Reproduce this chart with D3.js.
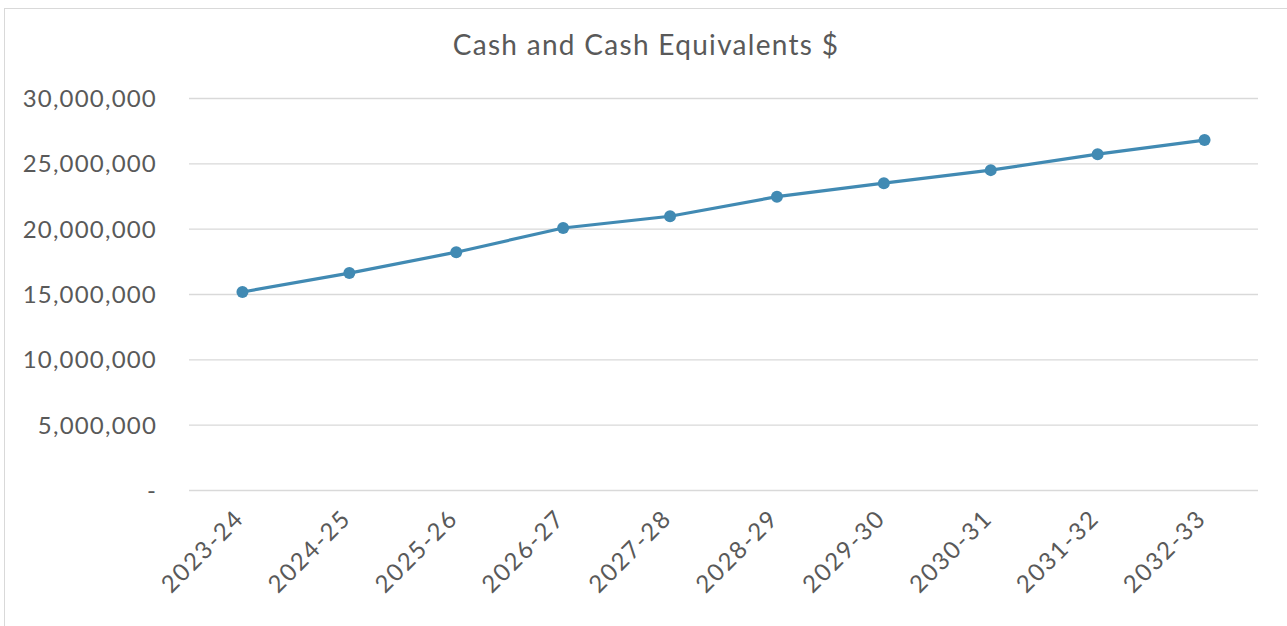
<!DOCTYPE html>
<html>
<head>
<meta charset="utf-8">
<script src="https://cdn.jsdelivr.net/npm/d3@7"></script>
<style>
  body { margin: 0; background: #fff; }
  text { font-family: Lato, "Open Sans", sans-serif; fill: #595959; }
</style>
</head>
<body>
<svg id="chart" width="1287" height="626"></svg>
<script>
var years = ['2023-24', '2024-25', '2025-26', '2026-27', '2027-28',
             '2028-29', '2029-30', '2030-31', '2031-32', '2032-33'];
var cash = [15150000, 16600000, 18200000, 20050000, 20950000,
            22450000, 23480000, 24480000, 25700000, 26780000];
var yTicks = [0, 5000000, 10000000, 15000000, 20000000, 25000000, 30000000];

var svg = d3.select('#chart');
var margin = {left: 189, right: 29, top: 98, bottom: 136};
var width = 1287 - margin.left - margin.right,
    height = 626 - margin.top - margin.bottom;

// outer border of the chart area
svg.append('rect').attr('x', 4.5).attr('y', 8.5).attr('width', 1300).attr('height', 700)
    .attr('fill', 'none').attr('stroke', '#d9d9d9');

svg.append('text').attr('x', 646).attr('y', 55).attr('text-anchor', 'middle')
    .style('font-size', '28px').style('letter-spacing', '1.3px')
    .text('Cash and Cash Equivalents $');

var g = svg.append('g').attr('transform', 'translate(' + margin.left + ',' + margin.top + ')');

var x = d3.scaleBand().domain(years).range([0, width]);
var y = d3.scaleLinear().domain([0, 30000000]).range([height, 0]);

var yAxis = d3.axisLeft(y).tickValues(yTicks).tickSize(-width).tickPadding(32)
    .tickFormat(function(d) { return d === 0 ? '-' : d3.format(',')(d); });
var ya = g.append('g').call(yAxis);
ya.select('.domain').remove();
ya.selectAll('line').attr('stroke', '#d9d9d9').attr('stroke-width', 1.3);
ya.selectAll('text').style('font-size', '24px').style('letter-spacing', '1.2px').attr('dy', '0.35em');

var xa = g.append('g').attr('transform', 'translate(0,' + height + ')')
    .call(d3.axisBottom(x).tickSize(0));
xa.select('.domain').remove();
xa.selectAll('text').style('font-size', '24px').style('letter-spacing', '1.8px')
    .attr('text-anchor', 'end').attr('dy', 0).attr('y', 0)
    .attr('transform', 'translate(3,30) rotate(-45)');

var line = d3.line()
    .x(function(d, i) { return x(years[i]) + x.bandwidth() / 2; })
    .y(function(d) { return y(d); });

g.append('path').datum(cash).attr('d', line)
    .attr('fill', 'none').attr('stroke', '#418ab3').attr('stroke-width', 3.2);

g.selectAll('circle').data(cash).enter().append('circle')
    .attr('cx', function(d, i) { return x(years[i]) + x.bandwidth() / 2; })
    .attr('cy', function(d) { return y(d); })
    .attr('r', 6).attr('fill', '#418ab3');
</script>
</body>
</html>
